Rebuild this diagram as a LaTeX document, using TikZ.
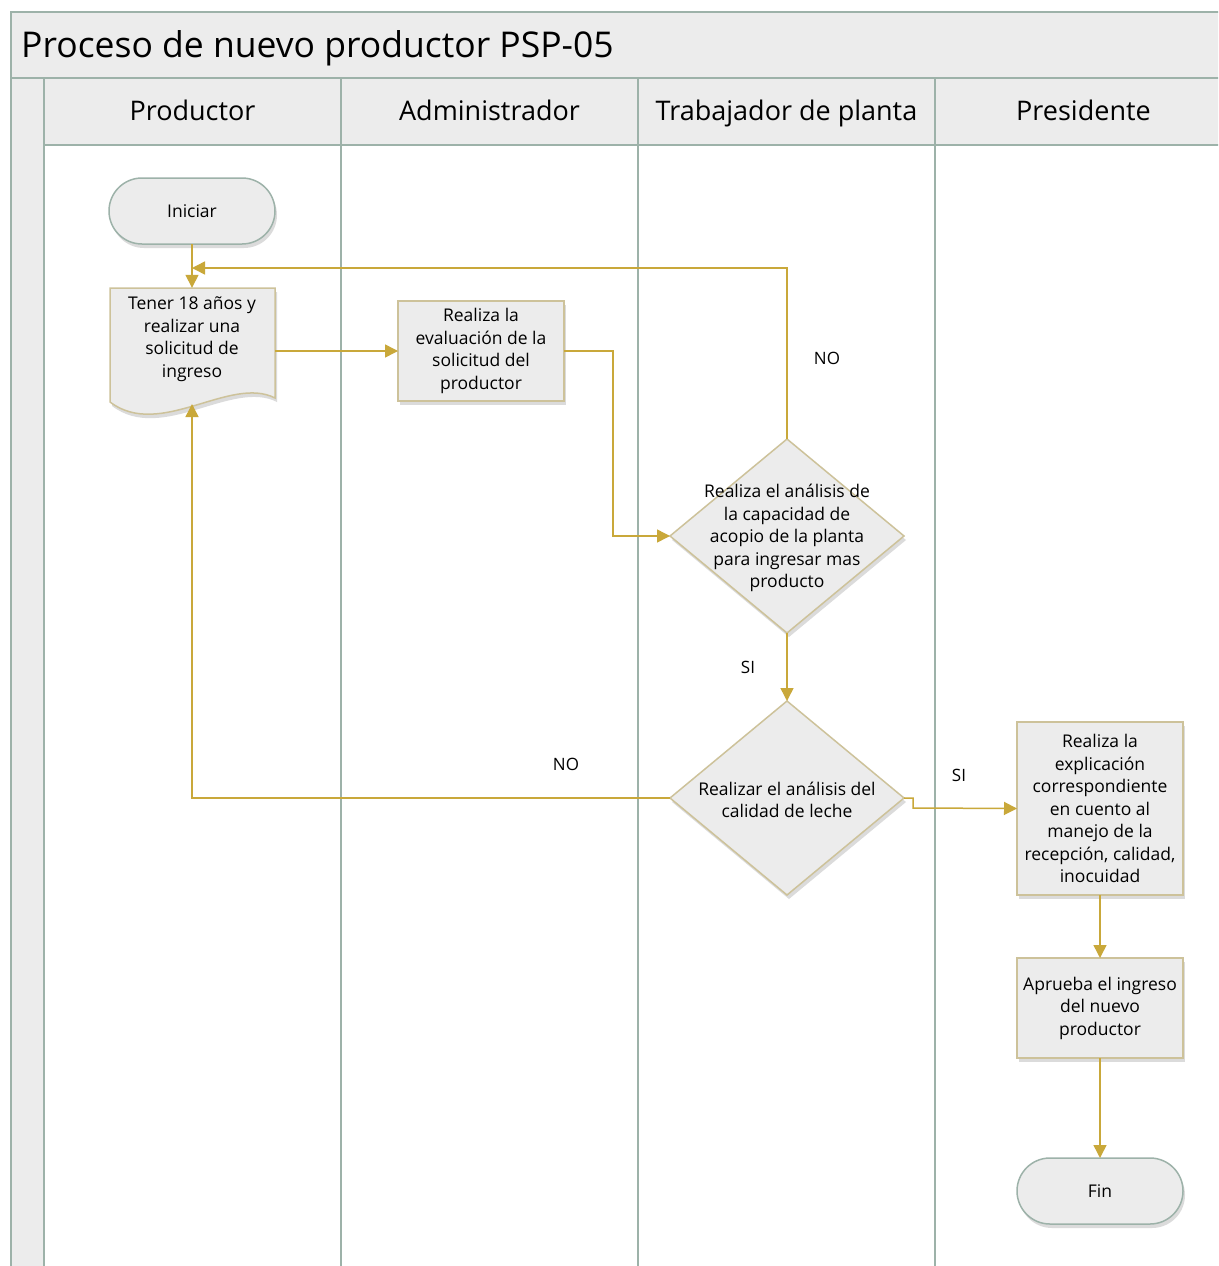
\documentclass[tikz,border=0pt]{standalone}
\usepackage{fontspec}
\setmainfont{Open Sans}
\usetikzlibrary{shapes.geometric,arrows.meta,shadows}

\definecolor{lanegreen}{HTML}{9DB2A9}
\definecolor{bandgray}{HTML}{ECECEC}
\definecolor{flowgold}{HTML}{C9A83A}
\definecolor{boxedge}{HTML}{CDC29A}

\tikzset{
  lanerule/.style={draw=lanegreen, line width=2pt},
  band/.style={fill=bandgray},
  softshadow/.style={drop shadow={shadow xshift=2pt, shadow yshift=-4pt, fill=black, opacity=0.14}},
  nodetext/.style={font=\fontsize{17.5}{22.5}\selectfont, align=center, text=black},
  processbox/.style={rectangle, draw=boxedge, fill=bandgray, line width=1.5pt,
    minimum width=166pt, minimum height=100pt, inner sep=0pt, outer sep=0pt,
    softshadow, nodetext},
  terminal/.style={rectangle, rounded corners=33pt, draw=lanegreen, fill=bandgray,
    line width=1.5pt, minimum width=166pt, minimum height=66pt, inner sep=0pt,
    outer sep=0pt, softshadow, nodetext},
  decision/.style={diamond, draw=boxedge, fill=bandgray, line width=1.5pt,
    minimum width=234pt, minimum height=194pt, inner sep=0pt, outer sep=0pt,
    softshadow},
  flow/.style={draw=flowgold, line width=1.5pt, -{Triangle[length=13pt,width=13pt]}},
  flowlabel/.style={font=\fontsize{17}{20}\selectfont, text=black},
  headtext/.style={font=\fontsize{27}{30}\selectfont, text=black, anchor=base, inner sep=0pt},
}

\begin{document}
\begin{tikzpicture}[x=1pt, y=-1pt]
  \useasboundingbox (0,0) rectangle (1218,1266);
  \clip (0,0) rectangle (1218,1266);

  % swimlane frame
  \fill[white] (0,0) rectangle (1218,1266);
  \path[band] (11,12) rectangle (1240,78);
  \path[band] (11,78) rectangle (44,1290);
  \path[band] (44,78) rectangle (1240,145);
  \draw[lanerule] (11,1290) -- (11,12) -- (1240,12);
  \draw[lanerule] (11,78) -- (1240,78);
  \draw[lanerule] (44,78) -- (44,1290);
  \draw[lanerule] (44,145) -- (1240,145);
  \foreach \lx in {341,638,935}
    \draw[lanerule] (\lx,78) -- (\lx,1290);

  \node[anchor=base west, inner sep=0pt, font=\fontsize{35.5}{40}\selectfont] (title) at (21,57) {Proceso de nuevo productor PSP-05};
  \node[headtext] (h1) at (192.5,120) {Productor};
  \node[headtext] (h2) at (489.5,120) {Administrador};
  \node[headtext] (h3) at (786.5,120) {Trabajador de planta};
  \node[headtext] (h4) at (1083.5,120) {Presidente};

  % Productor lane
  \node[terminal] (start) at (192,211) {Iniciar};

  \node[minimum width=166pt, minimum height=114pt, inner sep=0pt] (doc) at (192,345) {};
  \path[fill=bandgray, draw=boxedge, line width=1.5pt, softshadow]
    (110,288) -- (275,288) -- (275,398)
    .. controls (230,375) and (160,440) .. (110,402) -- cycle;
  \node[nodetext] (doctext) at (192,339) {Tener 18 años y\\realizar una\\solicitud de\\ingreso};
  \coordinate (docin) at (192,404);
  \coordinate (docout) at (275,351);
  \coordinate (join) at (192,268);

  % Administrador lane
  \node[processbox] (adm) at (481,351) {Realiza la\\evaluación de la\\solicitud del\\productor};
  \coordinate (bendA) at (613,351);

  % Trabajador de planta lane
  \node[decision] (d1) at (787,536) {};
  \node[nodetext] (d1text) at (787,538) {Realiza el análisis de\\la capacidad de\\acopio de la planta\\para ingresar mas\\producto};
  \node[decision] (d2) at (787,798) {};
  \node[nodetext] (d2text) at (787,800) {Realizar el análisis del\\calidad de leche};
  \coordinate (stepA) at (913,798);
  \coordinate (stepB) at (913,808);

  % Presidente lane
  \node[processbox, minimum height=173pt] (p1) at (1100,808.5) {Realiza la\\explicación\\correspondiente\\en cuento al\\manejo de la\\recepción, calidad,\\inocuidad};
  \node[processbox] (p2) at (1100,1008) {Aprueba el ingreso\\del nuevo\\productor};
  \node[terminal] (fin) at (1100,1191) {Fin};

  % connectors
  \draw[flow] (start.south) -- (start.south |- doc.north);
  \draw[flow] (docout) -- (adm.west);
  \draw[flow] (adm.east) -- (bendA) |- (d1.west);
  \draw[flow] (d1.north) |- (join);
  \draw[flow] (d1.south) -- (d2.north);
  \draw[flow] (d2.west) -| (docin);
  \draw[flow] (d2.east) -- (stepA) -- (stepB) -- (p1.west);
  \draw[flow] (p1.south) -- (p2.north);
  \draw[flow] (p2.south) -- (fin.north);

  % branch labels
  \node[flowlabel] (lno1) at (827,358) {NO};
  \node[flowlabel] (lsi1) at (748,667) {SI};
  \node[flowlabel] (lno2) at (566,764) {NO};
  \node[flowlabel] (lsi2) at (959,775) {SI};
\end{tikzpicture}
\end{document}
